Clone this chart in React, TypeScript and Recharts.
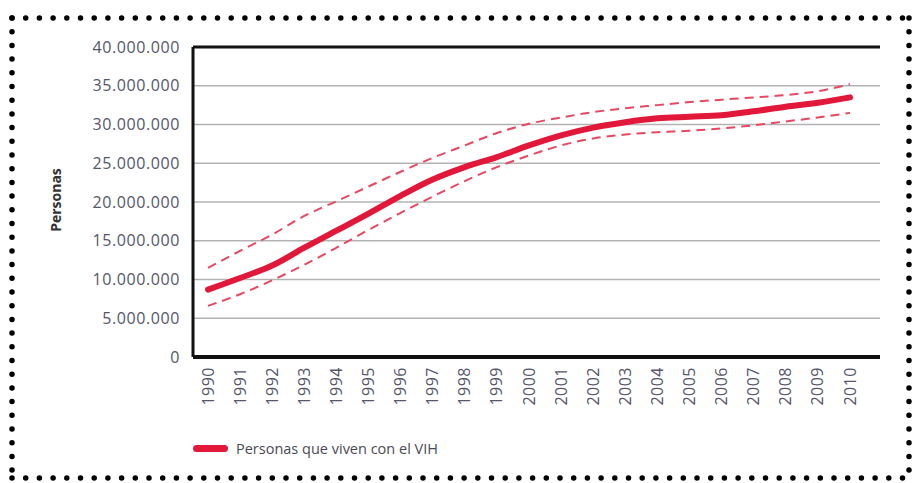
import React from 'react';
import {
  LineChart, Line, XAxis, YAxis, CartesianGrid, ReferenceLine,
} from 'recharts';

const years = [
  '1990', '1991', '1992', '1993', '1994', '1995', '1996', '1997', '1998', '1999', '2000',
  '2001', '2002', '2003', '2004', '2005', '2006', '2007', '2008', '2009', '2010',
];

// personas que viven con el VIH (estimación central)
const central = [
  8.7, 10.2, 11.8, 14.1, 16.3, 18.5, 20.8, 22.9, 24.5, 25.8, 27.3,
  28.6, 29.6, 30.3, 30.8, 31.0, 31.2, 31.7, 32.3, 32.8, 33.5,
];

const upper = [
  11.5, 13.7, 15.8, 18.2, 20.1, 22.0, 23.9, 25.7, 27.3, 28.9, 30.1,
  30.9, 31.6, 32.1, 32.5, 32.9, 33.2, 33.5, 33.8, 34.3, 35.2,
];

const lower = [
  6.6, 8.1, 9.9, 11.9, 14.1, 16.4, 18.6, 20.7, 22.7, 24.5, 26.0,
  27.3, 28.2, 28.7, 29.0, 29.2, 29.5, 29.9, 30.4, 30.9, 31.5,
];

const yTicks = [0, 5, 10, 15, 20, 25, 30, 35, 40];

const data = years.map((year, i) => ({
  year,
  central: central[i] * 1e6,
  upper: upper[i] * 1e6,
  lower: lower[i] * 1e6,
}));

const RED = '#e2183b';
const DASH_RED = '#e9475f';
const TEXT = '#55566a';
const FONT = '"Open Sans", sans-serif';

const fmt = (v: number) => String(v).replace(/\B(?=(\d{3})+(?!\d))/g, '.');

const YearTick = ({ x, y, payload }: any) => (
  <text
    x={x}
    y={y}
    transform={`rotate(-90, ${x}, ${y})`}
    textAnchor="end"
    dy="0.35em"
    fill={TEXT}
    fontSize={16}
    fontFamily={FONT}
    letterSpacing={0.5}
  >
    {payload.value}
  </text>
);

const DottedFrame = () => (
  <svg width={912} height={483} style={{ position: 'absolute', left: 0, top: 0, pointerEvents: 'none' }}>
    <g stroke="#000" strokeWidth={5.5} strokeLinecap="round" strokeDasharray="0 13.7">
      <line x1={12} y1={18} x2={909} y2={18} />
      <line x1={12} y1={18} x2={12} y2={478} />
      <line x1={12} y1={478} x2={909} y2={478} />
      <line x1={909} y1={18} x2={909} y2={478} />
    </g>
  </svg>
);

export default function App() {
  return (
    <div style={{ position: 'fixed', left: 0, top: 0, width: 912, height: 483, background: '#fff' }}>
      <LineChart
        width={912}
        height={483}
        data={data}
        margin={{ top: 47, right: 32, bottom: 0, left: 0 }}
      >
        <CartesianGrid vertical={false} stroke="#b3b3b3" strokeWidth={1.5} />
        <XAxis
          dataKey="year"
          height={126}
          padding={{ left: 15, right: 30 }}
          tickLine={false}
          tickSize={0}
          tickMargin={10}
          interval={0}
          axisLine={{ stroke: '#111', strokeWidth: 4 }}
          tick={<YearTick />}
        />
        <YAxis
          width={193}
          domain={[0, 40000000]}
          ticks={yTicks.map((t) => t * 1e6)}
          tickFormatter={fmt}
          tickLine={false}
          tickSize={0}
          tickMargin={13}
          axisLine={{ stroke: '#111', strokeWidth: 3 }}
          tick={{ fill: TEXT, fontSize: 16, fontFamily: FONT, letterSpacing: 0.6 }}
        />
        <ReferenceLine y={40000000} stroke="#111" strokeWidth={3} />
        <Line
          type="monotone"
          dataKey="upper"
          stroke={DASH_RED}
          strokeWidth={2}
          strokeDasharray="9 6"
          dot={false}
          isAnimationActive={false}
        />
        <Line
          type="monotone"
          dataKey="lower"
          stroke={DASH_RED}
          strokeWidth={2}
          strokeDasharray="9 6"
          dot={false}
          isAnimationActive={false}
        />
        <Line
          type="monotone"
          dataKey="central"
          stroke={RED}
          strokeWidth={6}
          strokeLinecap="round"
          dot={false}
          isAnimationActive={false}
        />
      </LineChart>
      <div
        style={{
          position: 'absolute', left: 55, top: 200, transform: 'translate(-50%, -50%) rotate(-90deg)',
          fontFamily: FONT, fontSize: 14, fontWeight: 700, color: '#333', whiteSpace: 'nowrap',
        }}
      >
        Personas
      </div>
      <div
        style={{
          position: 'absolute', left: 193, top: 439, display: 'flex', alignItems: 'center',
          fontFamily: FONT, fontSize: 14.5, color: '#4a4a55', whiteSpace: 'nowrap',
        }}
      >
        <span style={{ display: 'inline-block', width: 35, height: 7, borderRadius: 4, background: RED, marginRight: 8 }} />
        Personas que viven con el VIH
      </div>
      <DottedFrame />
    </div>
  );
}
